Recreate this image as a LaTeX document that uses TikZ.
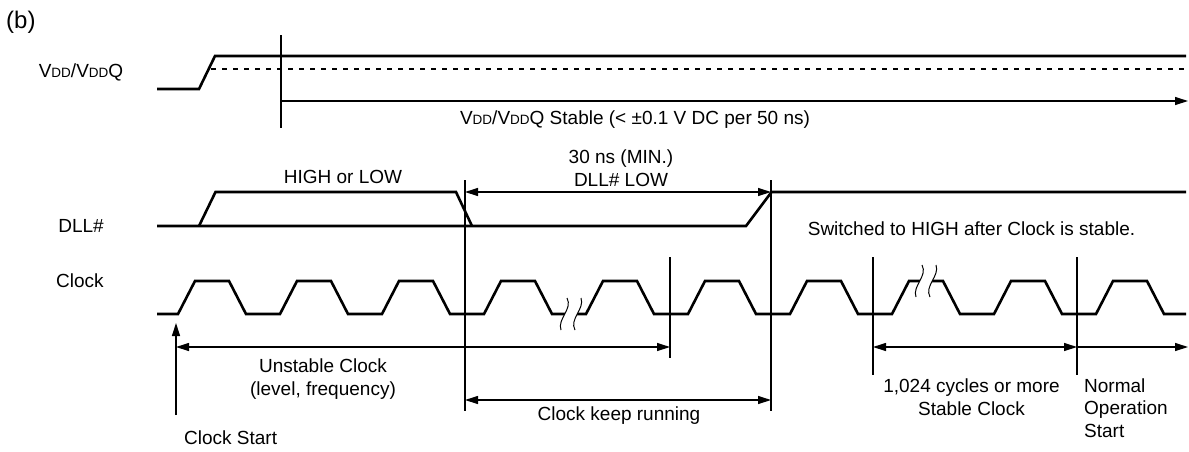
\documentclass[tikz,border=0pt]{standalone}
\usepackage{fontspec}
\setmainfont{Liberation Sans}
\usepackage{tikz}
\usetikzlibrary{calc}
\usetikzlibrary{arrows.meta}
\tikzstyle{signal} = [line width=2.6pt, line join=miter]
\tikzstyle{marker} = [line width=1.2pt]
\tikzstyle{note} = [inner sep=0pt, align=center]
\tikzstyle{arrow} = [marker, -{Triangle[length=13pt, width=8pt]}]
\tikzstyle{dimarrow} = [marker, {Triangle[length=13pt, width=8pt]}-{Triangle[length=13pt, width=8pt]}]
\tikzstyle{breakline} = [line width=1pt]
\newcommand{\vsub}[1]{{\fontsize{13.5}{15}\selectfont #1}}
% wavy break in a signal line, centre at (#1,#2)
\newcommand{\breakmark}[2]{%
  \fill[white] (#1-4,#2-16) .. controls (#1+2,#2-5) and (#1-14,#2+5) .. (#1-10,#2+16)
    -- (#1+4,#2+16) .. controls (#1-2,#2+5) and (#1+14,#2-5) .. (#1+10,#2-16) -- cycle;
  \draw[breakline] (#1-4,#2-16) .. controls (#1+2,#2-5) and (#1-14,#2+5) .. (#1-10,#2+16);
  \draw[breakline] (#1+10,#2-16) .. controls (#1+14,#2-5) and (#1-2,#2+5) .. (#1+4,#2+16);
}

\begin{document}
\begin{tikzpicture}[x=1pt, y=-1pt, font=\fontsize{19}{22.5}\selectfont]
    \useasboundingbox (0,0) rectangle (1189,451);

    % Signal names
    \node (fig) [inner sep=0pt, anchor=west, font=\fontsize{24}{26}\selectfont] at (6,22) {(b)};
    \node (vddname) [note] at (81,72) {V\vsub{DD}/V\vsub{DD}Q};
    \node (dllname) [note] at (81,226) {DLL\#};
    \node (clkname) [note] at (80,281) {Clock};

    % Timing markers
    \coordinate (tvdd) at (281,0);
    \coordinate (tdll) at (465,0);
    \coordinate (tunst) at (670,0);
    \coordinate (tdllh) at (771,0);
    \coordinate (tstab) at (873,0);
    \coordinate (tnorm) at (1077,0);
    \coordinate (tstart) at (176,0);
    \coordinate (tend) at (1188,0);

    \draw [marker] ($(tvdd)+(0,35)$) -- ($(tvdd)+(0,128)$);
    \draw [marker] ($(tdll)+(0,180)$) -- ($(tdll)+(0,411)$);
    \draw [marker] ($(tdllh)+(0,180)$) -- ($(tdllh)+(0,411)$);
    \draw [marker] ($(tunst)+(0,257)$) -- ($(tunst)+(0,358)$);
    \draw [marker] ($(tstab)+(0,257)$) -- ($(tstab)+(0,375)$);
    \draw [marker] ($(tnorm)+(0,257)$) -- ($(tnorm)+(0,375)$);

    % VDD/VDDQ
    \draw [signal] (157,89) -- (199,89) -- (215,56) -- (1186,56);
    \draw [line width=2pt, dash pattern=on 5pt off 6pt] (211,69) -- (1186,69);
    \draw [arrow] ($(tvdd)+(0,101)$) -- ($(tend)+(0,101)$);
    \node (vddstable) [note] at (635,120) {V\vsub{DD}/V\vsub{DD}Q Stable (< ±0.1 V DC per 50 ns)};

    % DLL#
    \draw [signal] (157,226) -- (746,226) -- (771.5,192) -- (1186,192);
    \draw [signal] (199,226) -- (215.5,192) -- (456,192) -- (472,226);
    \node (hilo) [note] at (343,177) {HIGH or LOW};
    \draw [dimarrow] ($(tdll)+(0,192)$) -- ($(tdllh)+(0,192)$);
    \node (dlllow) [note] at (621,168) {30 ns (MIN.)\\DLL\# LOW};
    \node (switched) [note] at (971.5,229) {Switched to HIGH after Clock is stable.};

    % Clock
    \draw [signal] (157,314) -- (178,314)
      \foreach \k in {0,...,8} { -- ++(17,-33) -- ++(34,0) -- ++(17,33) -- ++(34,0) }
      -- ++(17,-33) -- ++(34,0) -- ++(17,33) -- (1186,314);
    \breakmark{571}{314}
    \breakmark{926}{281}

    % Clock phases
    \draw [arrow] ($(tstart)+(0,415)$) -- ($(tstart)+(0,323)$);
    \node (clkstart) [note, anchor=west] at (184,438) {Clock Start};
    \draw [dimarrow] ($(tstart)+(0,347)$) -- ($(tunst)+(0,347)$);
    \node (unstable) [note] at (323,379) {Unstable Clock\\(level, frequency)};
    \draw [dimarrow] ($(tdll)+(0,400)$) -- ($(tdllh)+(0,400)$);
    \node (running) [note] at (619,416) {Clock keep running};
    \draw [dimarrow] ($(tstab)+(0,347)$) -- ($(tnorm)+(0,347)$);
    \node (stable) [note] at (971.5,397) {1,024 cycles or more\\Stable Clock};
    \draw [arrow] ($(tnorm)+(0,347)$) -- ($(tend)+(0,347)$);
    \node (normal) [note, anchor=west, align=left] at (1084,408) {Normal\\Operation\\Start};
\end{tikzpicture}
\end{document}
